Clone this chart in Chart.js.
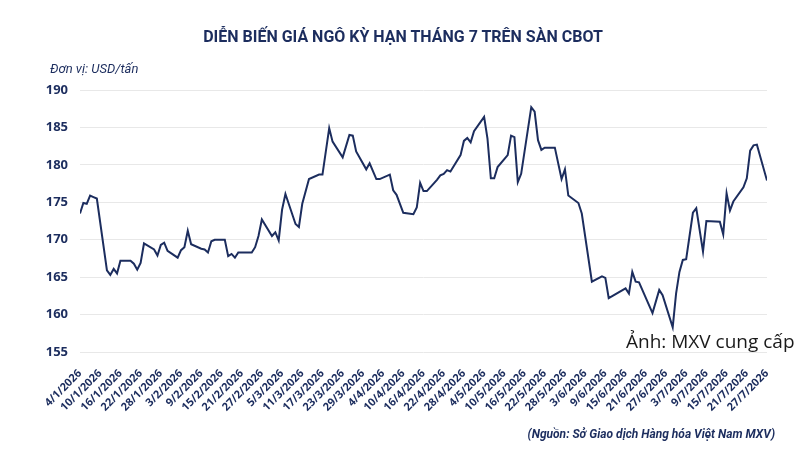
<!DOCTYPE html>
<html>
<head>
<meta charset="utf-8">
<script src="https://cdn.jsdelivr.net/npm/chart.js@4.4.1/dist/chart.umd.min.js"></script>
<style>
  body { margin: 0; background: #fff; }
  #wrap { position: relative; width: 800px; height: 450px; font-family: "Noto Sans", sans-serif; color: #1c2d5e; }
  #title { position: absolute; top: 27px; left: 0; width: 806px; text-align: center; font-weight: bold; font-size: 16px; font-family: Roboto, sans-serif; }
  #unit { position: absolute; top: 61px; left: 50px; font-style: italic; font-size: 13px; font-family: Roboto, sans-serif; }
  #source { position: absolute; top: 427px; right: 25px; font-style: italic; font-weight: bold; font-size: 12px; font-family: Roboto, sans-serif; }
  #photo { position: absolute; top: 328px; left: 626px; font-size: 19px; color: #1a1a1a; white-space: nowrap; font-family: "Open Sans", sans-serif; }
  canvas { position: absolute; top: 0; left: 0; }
</style>
</head>
<body>
<div id="wrap">
  <canvas id="gia" width="800" height="450"></canvas>
  <div id="title">DIỄN BIẾN GIÁ NGÔ KỲ HẠN THÁNG 7 TRÊN SÀN CBOT</div>
  <div id="unit">Đơn vị: USD/tấn</div>
  <div id="source">(Nguồn: Sở Giao dịch Hàng hóa Việt Nam MXV)</div>
  <div id="photo">Ảnh: MXV cung cấp</div>
</div>
<script>
// tick labels, one every 6 days starting 4/1/2026
var tickLabels = ["4/1/2026", "10/1/2026", "16/1/2026", "22/1/2026", "28/1/2026", "3/2/2026", "9/2/2026",
  "15/2/2026", "21/2/2026", "27/2/2026", "5/3/2026", "11/3/2026", "17/3/2026", "23/3/2026", "29/3/2026",
  "4/4/2026", "10/4/2026", "16/4/2026", "22/4/2026", "28/4/2026", "4/5/2026", "10/5/2026", "16/5/2026",
  "22/5/2026", "28/5/2026", "3/6/2026", "9/6/2026", "15/6/2026", "21/6/2026", "27/6/2026", "3/7/2026",
  "9/7/2026", "15/7/2026", "21/7/2026", "27/7/2026"];

// days since 4/1/2026
var days = [0, 1, 2, 3, 4, 5, 8, 9, 10, 11, 12, 15, 16, 17, 18, 19, 22, 23, 24, 25, 26, 29, 30, 31, 32, 33,
  36, 37, 38, 39, 40, 43, 44, 45, 46, 47, 51, 52, 53, 54, 57, 58, 59, 60, 61, 64, 65, 66, 68, 71, 72, 74, 75,
  78, 80, 81, 82, 85, 86, 88, 89, 92, 93, 94, 96, 99, 100, 101, 102, 103, 106, 107, 108, 109, 110, 113, 114,
  115, 116, 117, 120, 121, 122, 123, 124, 127, 128, 129, 130, 131, 134, 135, 136, 137, 138, 141, 143, 144,
  145, 148, 149, 152, 155, 156, 157, 162, 163, 164, 165, 166, 170, 172, 173, 176, 177, 178, 179, 180, 182,
  183, 185, 186, 190, 191, 192, 193, 194, 197, 198, 199, 200, 201, 204];

// price, USD/ton
var prices = [173.5, 174.9, 174.8, 175.9, 175.7, 175.5, 165.9, 165.3, 166.1, 165.5, 167.2, 167.2, 166.8, 166.0,
  166.9, 169.5, 168.7, 167.9, 169.3, 169.6, 168.5, 167.6, 168.6, 169.0, 171.2, 169.4,
  168.8, 168.7, 168.3, 169.8, 170.0, 170.0, 167.8, 168.1, 167.6, 168.3, 168.3, 169.0, 170.5, 172.7, 170.5,
  171.0, 169.9, 174.0, 176.1, 172.1, 171.7, 174.8, 178.1, 178.7, 178.7, 184.9, 183.1,
  181.0, 184.0, 183.9, 181.8, 179.4, 180.2, 178.1, 178.1, 178.7, 176.6, 176.0, 173.6, 173.4, 174.3, 177.6,
  176.5, 176.5, 178.0, 178.6, 178.8, 179.3, 179.1, 181.3, 183.2,
  183.6, 183.0, 184.5, 186.4, 183.5, 178.2, 178.2, 179.7, 181.3, 183.9, 183.7, 177.7, 178.8, 187.7, 187.1,
  183.3, 182.0, 182.3, 182.3, 178.1, 179.4,
  175.9, 174.9, 173.5, 164.4, 165.1, 164.9, 162.2, 163.5, 162.8, 165.7, 164.4, 164.3, 160.2, 163.3, 162.6,
  158.3, 162.8, 165.7, 167.3, 167.4, 173.6,
  174.2, 168.4, 172.5, 172.4, 170.7, 176.2, 173.9, 175.1, 177.0, 178.2, 181.9, 182.6, 182.7, 177.9];

var points = days.map(function (d, i) { return { x: d, y: prices[i] }; });

new Chart("gia", {
  type: "line",
  data: {
    datasets: [
      {
        label: "Giá ngô",
        data: points,
        borderColor: "#1c2d5e",
        borderWidth: 2,
        pointRadius: 0,
        tension: 0,
      },
    ],
  },
  options: {
    responsive: false,
    animation: false,
    layout: { padding: { top: 90, right: 33, left: 0, bottom: 0 } },
    plugins: { legend: { display: false }, tooltip: { enabled: false } },
    scales: {
      x: {
        type: "linear",
        min: 0,
        max: 204,
        grid: { display: false },
        border: { display: false },
        ticks: {
          stepSize: 6,
          autoSkip: false,
          maxRotation: 45,
          minRotation: 45,
          padding: 7,
          color: "#1c2d5e",
          font: { family: "Noto Sans", size: 11, weight: "bold" },
          callback: function (v) { return tickLabels[v / 6]; },
        },
        afterFit: function (scale) { scale.height = 98; },
      },
      y: {
        min: 155,
        max: 190,
        grid: { color: "#e8e8e8", drawTicks: false },
        border: { display: false },
        ticks: {
          stepSize: 5,
          padding: 12,
          color: "#1c2d5e",
          font: { family: "Noto Sans", size: 13, weight: "bold" },
        },
        afterFit: function (scale) { scale.width = 80; },
      },
    },
  },
});
</script>
</body>
</html>
